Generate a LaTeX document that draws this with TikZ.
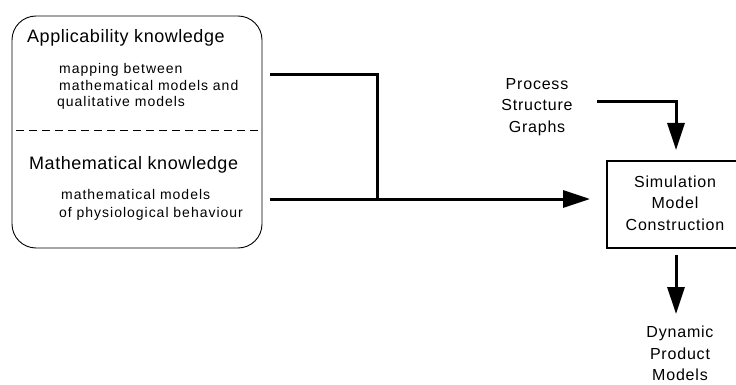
\documentclass[tikz,border=0pt]{standalone}
\usepackage{fontspec}
\setmainfont{Liberation Sans}
\newfontfamily\headfont[LetterSpace=3]{Liberation Sans}
\newfontfamily\notefont[LetterSpace=7]{Liberation Sans}
\newfontfamily\labelfont[LetterSpace=5]{Liberation Sans}
\usetikzlibrary{arrows.meta}
\begin{document}
\begin{tikzpicture}[x=1pt,y=-1pt,
  heading/.style={anchor=base west,inner sep=0pt,font=\headfont\fontsize{18}{22}\selectfont},
  note/.style={anchor=base west,inner sep=0pt,font=\notefont\fontsize{14}{17}\selectfont},
  label/.style={align=center,inner sep=0pt,font=\labelfont\fontsize{16}{21.5}\selectfont},
  flow/.style={line width=3pt},
  flowarrow/.style={flow,-{Triangle[length=27pt,width=17pt]}},
  knowbox/.style={draw,line width=0.9pt,rounded corners=24pt,minimum width=250pt,minimum height=232pt,inner sep=0pt},
  procbox/.style={draw,line width=1.2pt,minimum width=170pt,minimum height=87pt,inner sep=0pt}]
\useasboundingbox (0,0) rectangle (736,385);
\clip (0,0) rectangle (736,385);

% knowledge store
\node[knowbox] (know) at (137,132) {};
\draw[line width=0.9pt,dash pattern=on 8pt off 5pt] (16,130) -- (260,130);
\node[heading] (appl) at (27,43) {Applicability knowledge};
\node[note] (map1) at (59,74) {mapping between};
\node[note] (map2) at (59,91) {mathematical models and};
\node[note] (map3) at (57,107) {qualitative models};
\node[heading] (math) at (29,169) {Mathematical knowledge};
\node[note] (mm1) at (61,199) {mathematical models};
\node[note] (mm2) at (59,217) {of physiological behaviour};

% construction step (its right side runs past the page edge)
\node[procbox] (sim) at (692,204.5) {};
\node[label] (simtext) at (675,203) {Simulation\\Model\\Construction};
\node[label] (psg) at (537,107) {Process\\Structure\\Graphs};
\node[label] (dpm) at (680,353.5) {Dynamic\\Product\\Models};

% connectors
\coordinate (aout) at (270,75);
\coordinate (mout) at (270,199);
\coordinate (junc) at (377,199);
\coordinate (psgout) at (597,102);
\coordinate (simin) at (607,199);
\coordinate (simtop) at (676,161);
\coordinate (simbot) at (676,255);
\coordinate (dpmtop) at (676,314);

\draw[flow] (aout) -| (junc);
\draw[flowarrow,shorten >=17pt] (mout) -- (simin);
\draw[flowarrow,shorten >=11pt] (psgout) -| (simtop);
\draw[flowarrow] (simbot) -- (dpmtop);
\end{tikzpicture}
\end{document}
